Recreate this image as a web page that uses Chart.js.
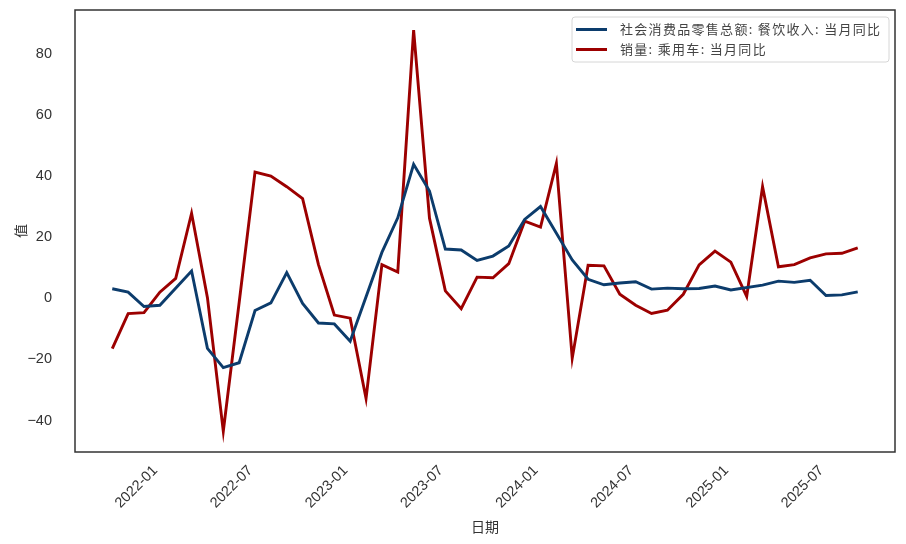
<!DOCTYPE html>
<html lang="zh">
<head>
    <meta charset="UTF-8">
    <title>餐饮收入与乘用车销量 当月同比</title>
    <script src="https://cdn.jsdelivr.net/npm/chart.js"></script>
    <style>
        body {
            margin: 0;
            background-color: white;
        }
        #wrap {
            width: 906px;
            height: 544px;
        }
    </style>
</head>
<body>
    <div id="wrap"><canvas id="grafica"></canvas></div>

    <script>
        // meses (los datos están a fin de mes)
        const months = [
            '2021-09', '2021-10', '2021-11', '2021-12',
            '2022-01', '2022-02', '2022-03', '2022-04', '2022-05', '2022-06',
            '2022-07', '2022-08', '2022-09', '2022-10', '2022-11', '2022-12',
            '2023-01', '2023-02', '2023-03', '2023-04', '2023-05', '2023-06',
            '2023-07', '2023-08', '2023-09', '2023-10', '2023-11', '2023-12',
            '2024-01', '2024-02', '2024-03', '2024-04', '2024-05', '2024-06',
            '2024-07', '2024-08', '2024-09', '2024-10', '2024-11', '2024-12',
            '2025-01', '2025-02', '2025-03', '2025-04', '2025-05', '2025-06',
            '2025-07', '2025-08'
        ];

        // 社会消费品零售总额: 餐饮收入: 当月同比 (enero no se publica)
        const canyin = [
            3.1, 2.0, -2.7, -2.3,
            null, 8.9, -16.4, -22.7, -21.1, -4.0,
            -1.5, 8.4, -1.7, -8.1, -8.4, -14.1,
            null, 15.0, 26.3, 43.8, 35.1, 16.1,
            15.8, 12.4, 13.8, 17.1, 25.8, 30.0,
            null, 12.5, 6.2, 4.4, 5.0, 5.4,
            3.0, 3.3, 3.1, 3.2, 4.0, 2.7,
            null, 4.3, 5.6, 5.2, 5.9, 0.9,
            1.1, 2.1
        ];

        // 销量: 乘用车: 当月同比
        const chengyongche = [
            -16.5, -5.0, -4.7, 2.0,
            6.5, 27.8, 0.2, -43.5, -1.4, 41.3,
            40.0, 36.5, 32.6, 11.0, -5.5, -6.5,
            -32.8, 11.0, 8.6, 87.7, 26.2, 2.4,
            -3.4, 6.9, 6.7, 11.3, 25.2, 23.3,
            44.1, -19.6, 10.8, 10.6, 1.3, -2.3,
            -5.0, -3.9, 1.3, 10.9, 15.4, 11.8,
            0.6, 36.5, 10.3, 11.0, 13.2, 14.5,
            14.7, 16.5
        ];

        const tickLabels = ['2022-01', '2022-07', '2023-01', '2023-07', '2024-01', '2024-07', '2025-01', '2025-07'];
        const yTicks = [-40, -20, 0, 20, 40, 60, 80];

        const seriesNames = ['社会消费品零售总额: 餐饮收入: 当月同比', '销量: 乘用车: 当月同比'];
        const seriesColors = ['#0c3c6c', '#9c0000'];

        function puntos(valores) {
            return valores.map((v, i) => ({ x: i, y: v }));
        }

        // marco alrededor del área del gráfico
        const marco = {
            id: 'marco',
            afterDatasetsDraw(chart) {
                const a = chart.chartArea;
                const ctx = chart.ctx;
                ctx.save();
                ctx.strokeStyle = '#333333';
                ctx.lineWidth = 1.5;
                ctx.strokeRect(a.left, a.top, a.right - a.left, a.bottom - a.top);
                ctx.restore();
            }
        };

        // leyenda dentro del gráfico, arriba a la derecha
        const leyenda = {
            id: 'leyenda',
            afterDraw(chart) {
                const a = chart.chartArea;
                const ctx = chart.ctx;
                const w = 317, h = 45;
                const x = a.right - 6 - w;
                const y = a.top + 7;
                ctx.save();
                ctx.beginPath();
                ctx.roundRect(x, y, w, h, 3);
                ctx.fillStyle = 'rgba(255,255,255,0.85)';
                ctx.fill();
                ctx.strokeStyle = '#d6d6d6';
                ctx.lineWidth = 1;
                ctx.stroke();

                ctx.font = '13px "Noto Sans CJK SC"';
                ctx.letterSpacing = '1.3px';
                ctx.textBaseline = 'middle';
                chart.data.datasets.forEach((ds, i) => {
                    const ly = y + 12.5 + i * 20;
                    ctx.strokeStyle = ds.borderColor;
                    ctx.lineWidth = 3;
                    ctx.beginPath();
                    ctx.moveTo(x + 4, ly);
                    ctx.lineTo(x + 35, ly);
                    ctx.stroke();
                    ctx.fillStyle = '#444444';
                    ctx.fillText(ds.label, x + 48, ly);
                });
                ctx.restore();
            }
        };

        const ctx = document.getElementById('grafica').getContext('2d');
        new Chart(ctx, {
            type: 'line',
            data: {
                datasets: [
                    {
                        label: seriesNames[0],
                        data: puntos(canyin),
                        borderColor: seriesColors[0],
                        borderWidth: 2.9,
                        spanGaps: true,
                        fill: false
                    },
                    {
                        label: seriesNames[1],
                        data: puntos(chengyongche),
                        borderColor: seriesColors[1],
                        borderWidth: 2.9,
                        fill: false
                    }
                ]
            },
            options: {
                responsive: true,
                maintainAspectRatio: false,
                animation: false,
                layout: { padding: { top: 10, right: 11, left: 0, bottom: 0 } },
                elements: { point: { radius: 0 }, line: { tension: 0 } },
                plugins: {
                    legend: { display: false },
                    tooltip: { enabled: false }
                },
                scales: {
                    x: {
                        type: 'linear',
                        min: -2.35,
                        max: months.length - 1 + 2.35,
                        grid: { display: false },
                        border: { display: false },
                        afterFit(scale) { scale.height = 92; },
                        afterBuildTicks(scale) {
                            // los ticks caen el día 1 del mes, los datos a fin de mes
                            scale.ticks = tickLabels.map(t => ({ value: months.indexOf(t) - 0.97 }));
                        },
                        ticks: {
                            minRotation: 45,
                            maxRotation: 45,
                            padding: 2,
                            labelOffset: -5,
                            color: '#333333',
                            font: { family: '"Liberation Sans", Arial, sans-serif', size: 14.5 },
                            callback: (value, index) => tickLabels[index]
                        },
                        title: {
                            display: true,
                            text: '日期',
                            color: '#333333',
                            font: { family: '"Noto Sans CJK SC"', size: 14 },
                            padding: { top: 0, bottom: 9 }
                        }
                    },
                    y: {
                        min: -50.3,
                        max: 94.3,
                        grid: { display: false },
                        border: { display: false },
                        afterFit(scale) {
                            scale.width = 75;
                            scale.paddingTop = 0;
                            scale.paddingBottom = 0;
                        },
                        afterBuildTicks(scale) {
                            scale.ticks = yTicks.map(v => ({ value: v }));
                        },
                        ticks: {
                            padding: 15,
                            color: '#333333',
                            font: { family: '"Liberation Sans", Arial, sans-serif', size: 14.5 },
                            callback: v => String(v).replace('-', '\u2212')
                        },
                        title: {
                            display: true,
                            text: '值',
                            color: '#333333',
                            font: { family: '"Noto Sans CJK SC"', size: 14 },
                            padding: { top: 12, bottom: 0 }
                        }
                    }
                }
            },
            plugins: [marco, leyenda]
        });
    </script>
</body>
</html>
